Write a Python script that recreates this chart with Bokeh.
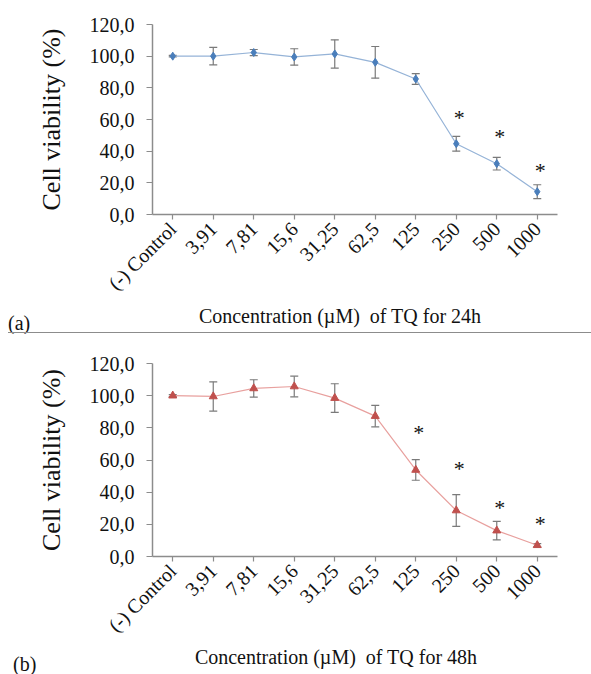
import math
from bokeh.plotting import figure
from bokeh.models import (ColumnDataSource, FactorRange, Range1d, FixedTicker,
                          Whisker, TeeHead, Div, Title)
from bokeh.layouts import column
from bokeh.core.properties import value
from bokeh.embed import file_html
from bokeh.resources import INLINE

# ---------------- data ----------------
categories = ["(-) Control", "3,91", "7,81", "15,6", "31,25", "62,5", "125", "250", "500", "1000"]

viability_24h = [100.0, 100.0, 102.3, 99.5, 101.4, 96.1, 85.6, 44.7, 32.1, 14.4]
sd_24h        = [0.5, 5.5, 1.9, 5.2, 8.9, 10.0, 3.4, 4.7, 4.0, 4.4]
star_cats_24h = ["250", "500", "1000"]
star_y_24h    = [63.3, 51.2, 29.7]

viability_48h = [100.0, 99.5, 104.5, 105.7, 98.5, 87.3, 53.8, 28.6, 16.1, 7.0]
sd_48h        = [0.6, 9.1, 5.4, 6.4, 8.9, 6.7, 6.4, 9.9, 5.8, 1.0]
star_cats_48h = ["125", "250", "500", "1000"]
star_y_48h    = [78.8, 56.5, 32.3, 22.3]

y_ticks = [0, 20, 40, 60, 80, 100, 120]
y_tick_labels = {t: f"{t},0" for t in y_ticks}

x_title_24h = "Concentration (\u00b5M)\u00a0 of TQ for 24h"
x_title_48h = "Concentration (\u00b5M)\u00a0 of TQ for 48h"
y_title = "Cell viability (%)"

FONT = "Liberation Serif"
GREY = "#8c8c8c"
TXT = "#111111"


def make_panel(vals, sds, star_cats, star_ys, line_color, marker_color, marker,
               height, borders):
    top, bottom, left, right = borders
    p = figure(width=591, height=height, x_range=FactorRange(*categories, range_padding=0),
               y_range=Range1d(0, 120), output_backend="svg", toolbar_location=None,
               min_border_top=top, min_border_bottom=bottom,
               min_border_left=left, min_border_right=right)
    p.outline_line_color = None
    p.grid.grid_line_color = None
    p.background_fill_color = "white"
    p.border_fill_color = "white"

    lower = [v - s for v, s in zip(vals, sds)]
    upper = [v + s for v, s in zip(vals, sds)]
    src = ColumnDataSource(dict(x=categories, y=vals, lower=lower, upper=upper))

    p.line("x", "y", source=src, line_color=line_color, line_width=1.2)
    w = Whisker(base="x", upper="upper", lower="lower", source=src,
                line_color="#7a7a7a", line_width=1.2,
                upper_head=TeeHead(size=8, line_color="#7a7a7a", line_width=1.2),
                lower_head=TeeHead(size=8, line_color="#7a7a7a", line_width=1.2))
    p.add_layout(w)
    p.scatter("x", "y", source=src, marker=marker, size=8,
              fill_color=marker_color, line_color=marker_color)

    ssrc = ColumnDataSource(dict(x=star_cats, y=star_ys, t=["*"] * len(star_cats)))
    p.text("x", "y", text="t", source=ssrc, text_font=value(FONT), text_font_size="22px",
           text_align="center", text_baseline="middle", x_offset=3, y_offset=3,
           text_color=TXT)

    yax = p.left[0]
    yax.ticker = FixedTicker(ticks=y_ticks)
    yax.major_label_overrides = y_tick_labels
    yax.minor_tick_line_color = None
    yax.major_tick_in = 0
    yax.major_tick_out = 6
    yax.major_label_standoff = 12

    xax = p.below[0]
    xax.major_label_orientation = math.pi / 4
    xax.major_tick_in = 0
    xax.major_tick_out = 5
    xax.major_label_standoff = 6

    for ax in (xax, yax):
        ax.axis_line_color = GREY
        ax.axis_line_width = 1.5
        ax.major_tick_line_color = GREY
        ax.major_tick_line_width = 1.2
        ax.major_label_text_font = FONT
        ax.major_label_text_font_size = "20px"
        ax.major_label_text_color = TXT

    ytitle = Title(text=y_title, align="center", text_font=FONT, text_font_size="26px",
                   text_font_style="normal", text_color=TXT, standoff=42)
    p.add_layout(ytitle, "left")
    return p


def caption(title, tag, title_cx, tag_x, tag_top, with_line):
    span = ("position:absolute;white-space:nowrap;font-family:'Liberation Serif',serif;"
            "font-size:20px;line-height:20px;color:#111111;")
    html = (f'<div style="position:relative;width:591px;height:27px;">'
            f'<span style="{span}left:{title_cx}px;top:0px;transform:translateX(-50%);">{title}</span>'
            f'<span style="{span}left:{tag_x}px;top:{tag_top}px;">{tag}</span>')
    if with_line:
        html += ('<div style="position:absolute;left:8px;top:26px;width:583px;height:1px;'
                 'background:#8c8c8c;"></div>')
    html += '</div>'
    return Div(text=html, width=591, height=27, margin=(0, 0, 0, 0))


p1 = make_panel(viability_24h, sd_24h, star_cats_24h, star_y_24h,
                "#95b3d7", "#4a7ebb", "diamond", 306, (24, 92, 152, 32))
cap1 = caption(x_title_24h, "(a)", 340, 8, 7, True)
p2 = make_panel(viability_48h, sd_48h, star_cats_48h, star_y_48h,
                "#e8a09e", "#c0504d", "triangle", 314, (30, 91, 150, 34))
cap2 = caption(x_title_48h, "(b)", 336, 13, 7, False)

layout = column(p1, cap1, p2, cap2, spacing=0)
open("out.html", "w").write(file_html(layout, INLINE))
